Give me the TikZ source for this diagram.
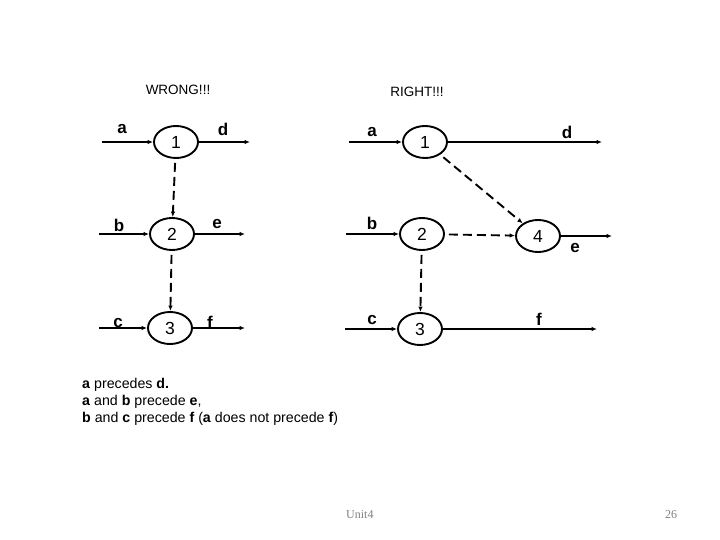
\documentclass[tikz,border=0pt]{standalone}
\usepackage{fontspec}
\setmainfont{Liberation Sans}
\newfontfamily\footface{Liberation Serif}
\usetikzlibrary{arrows.meta,positioning,shapes.geometric}

\begin{document}
\begin{tikzpicture}[
    x=1pt, y=-1pt,
    event/.style={draw=black, ellipse, line width=1.9pt, minimum width=44pt, minimum height=32pt, inner sep=0pt, font=\fontsize{17.5}{20}\selectfont},
    lbl/.style={font=\fontsize{17}{20}\selectfont\bfseries},
    heading/.style={font=\fontsize{13.5}{16}\selectfont},
    note/.style={anchor=base west, inner sep=0pt, font=\fontsize{14.2}{17}\selectfont},
    foot/.style={anchor=base west, inner sep=0pt, text=black!50, font=\footface\fontsize{12}{14}\selectfont},
    arr/.style={-{Latex[length=5.5pt,width=4.5pt]}, line width=1.9pt},
    dep/.style={-{Latex[length=5.5pt,width=4.5pt]}, line width=1.9pt, dash pattern=on 9pt off 5pt, shorten <=4pt}
  ]
    \useasboundingbox (0,0) rectangle (720,540);

    % WRONG side
    \node[heading] (wtitle) at (178,90) {WRONG!!!};
    \node[event] (w1) at (176,142) {1};
    \node[event] (w2) at (172,234) {2};
    \node[event] (w3) at (170,328) {3};
    \coordinate (wain) at (102,142);
    \coordinate (wbin) at (99,234);
    \coordinate (wcin) at (99,328);
    \coordinate (wdout) at (250,142);
    \coordinate (weout) at (245,234);
    \coordinate (wfout) at (245,328);
    \draw[arr] (wain) -- (w1);
    \draw[arr] (wbin) -- (w2);
    \draw[arr] (wcin) -- (w3);
    \draw[arr] (w1) -- (wdout);
    \draw[arr] (w2) -- (weout);
    \draw[arr] (w3) -- (wfout);
    \draw[dep] (w1) -- (w2);
    \draw[dep] (w2) -- (w3);
    \node[lbl] (wa) at (122,129) {a};
    \node[lbl] (wb) at (119,225) {b};
    \node[lbl] (wc) at (118,323) {c};
    \node[lbl] (wd) at (223,129) {d};
    \node[lbl] (we) at (217,224) {e};
    \node[lbl] (wf) at (210,322) {f};

    % RIGHT side
    \node[heading] (rtitle) at (417,92) {RIGHT!!!};
    \node[event] (r1) at (425,142) {1};
    \node[event] (r2) at (422,234) {2};
    \node[event] (r3) at (420,329) {3};
    \node[event] (r4) at (538,236) {4};
    \coordinate (rain) at (349,142);
    \coordinate (rbin) at (346,234);
    \coordinate (rcin) at (345,329);
    \coordinate (rdout) at (602,142);
    \coordinate (reout) at (612,236);
    \coordinate (rfout) at (597,329);
    \draw[arr] (rain) -- (r1);
    \draw[arr] (rbin) -- (r2);
    \draw[arr] (rcin) -- (r3);
    \draw[arr] (r1) -- (rdout);
    \draw[arr] (r4) -- (reout);
    \draw[arr] (r3) -- (rfout);
    \draw[dep] (r1) -- (r4);
    \draw[dep] (r2) -- (r4);
    \draw[dep] (r2) -- (r3);
    \node[lbl] (ra) at (372,132) {a};
    \node[lbl] (rb) at (372,223) {b};
    \node[lbl] (rc) at (372,320) {c};
    \node[lbl] (rd) at (567,132) {d};
    \node[lbl] (re) at (575,248) {e};
    \node[lbl] (rf) at (539,319) {f};

    % notes
    \node[note] (line1) at (82,388) {\textbf{a} precedes \textbf{d.}};
    \node[note] (line2) at (82,405) {\textbf{a} and \textbf{b} precede \textbf{e},};
    \node[note] (line3) at (82,422) {\textbf{b} and \textbf{c} precede \textbf{f} (\textbf{a} does not precede \textbf{f})};
    \node[foot] (unit) at (346,518) {Unit4};
    \node[foot] (page) at (665,518) {26};
\end{tikzpicture}
\end{document}
